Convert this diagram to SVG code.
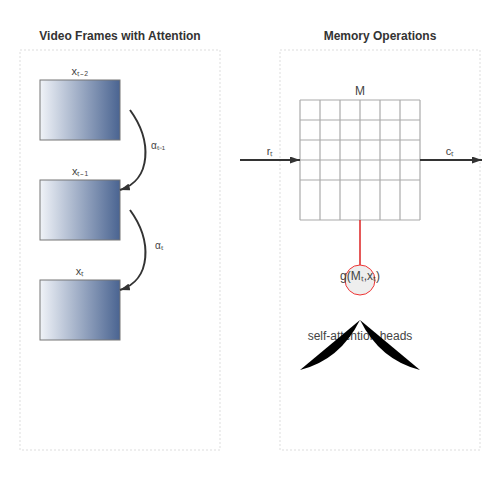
<svg xmlns="http://www.w3.org/2000/svg" width="500" height="500" viewBox="0 0 500 500">
<style>
.title{font-family:"Liberation Sans",Arial,sans-serif;font-size:12px;font-weight:bold;fill:#333;text-anchor:middle}
.lbl{font-family:"Liberation Sans",Arial,sans-serif;font-size:11px;fill:#444}
.panel{fill:none;stroke:#ddd;stroke-width:1;stroke-dasharray:2,2}
.frame{fill:url(#fg);stroke:#777;stroke-width:1}
.grid line{stroke:#aaa;stroke-width:1.2}
.arc{fill:none;stroke:#333;stroke-width:2}
.flow{stroke:#333;stroke-width:2}
</style>
<defs>
<linearGradient id="fg" x1="0" y1="0" x2="1" y2="0">
<stop offset="0" stop-color="#f0f3f8"/>
<stop offset="1" stop-color="#4a6491"/>
</linearGradient>
<marker id="ah" viewBox="0 0 10 7" refX="10" refY="3.5" markerWidth="10" markerHeight="7" orient="auto" markerUnits="userSpaceOnUse">
<path d="M0,0 L10,3.5 L0,7 Z" fill="#333"/>
</marker>
</defs>
<rect width="500" height="500" fill="#fff"/>
<g id="panel-left">
<rect class="panel" x="20" y="50" width="200" height="400"/>
<text class="title" x="120" y="40">Video Frames with Attention</text>
</g>
<g id="panel-right">
<rect class="panel" x="280" y="50" width="200" height="400"/>
<text class="title" x="380" y="40">Memory Operations</text>
</g>
<g id="frame-t2">
<rect class="frame" x="40" y="80" width="80" height="60"/>
<text class="lbl" x="80" y="75" text-anchor="middle">xₜ₋₂</text>
</g>
<g id="frame-t1">
<rect class="frame" x="40" y="180" width="80" height="60"/>
<text class="lbl" x="80" y="175" text-anchor="middle">xₜ₋₁</text>
</g>
<g id="frame-t">
<rect class="frame" x="40" y="280" width="80" height="60"/>
<text class="lbl" x="80" y="275" text-anchor="middle">xₜ</text>
</g>
<g id="memory">
<g class="grid">
<line x1="300" y1="100" x2="300" y2="220"/>
<line x1="320" y1="100" x2="320" y2="220"/>
<line x1="340" y1="100" x2="340" y2="220"/>
<line x1="360" y1="100" x2="360" y2="220"/>
<line x1="380" y1="100" x2="380" y2="220"/>
<line x1="400" y1="100" x2="400" y2="220"/>
<line x1="420" y1="100" x2="420" y2="220"/>
<line x1="300" y1="100" x2="420" y2="100"/>
<line x1="300" y1="120" x2="420" y2="120"/>
<line x1="300" y1="140" x2="420" y2="140"/>
<line x1="300" y1="160" x2="420" y2="160"/>
<line x1="300" y1="180" x2="420" y2="180"/>
<line x1="300" y1="220" x2="420" y2="220"/>
</g>
<text class="lbl" x="360" y="95" text-anchor="middle" style="font-size:12px">M</text>
</g>
<g id="connectors">
<path class="arc" d="M130,110 C152,140 152,180 120,190" marker-end="url(#ah)"/>
<text class="lbl" x="151" y="149" style="font-size:10px">αₜ₋₁</text>
<path class="arc" d="M130,210 C152,240 152,280 120,290" marker-end="url(#ah)"/>
<text class="lbl" x="155" y="249" style="font-size:10px">αₜ</text>
<line class="flow" x1="240" y1="160" x2="300" y2="160" marker-end="url(#ah)"/>
<text class="lbl" x="270" y="155" text-anchor="middle">rₜ</text>
<line class="flow" x1="420" y1="160" x2="482" y2="160" marker-end="url(#ah)"/>
<text class="lbl" x="450" y="155" text-anchor="middle">cₜ</text>
<line x1="360" y1="220" x2="360" y2="265" stroke="#d22" stroke-width="1.5"/>
</g>
<g id="gate">
<circle cx="360" cy="280" r="15" fill="#eee" stroke="#e33" stroke-width="1"/>
<text class="lbl" x="360" y="280" text-anchor="middle" style="font-size:12px">g(Mₜ,xₜ)</text>
</g>
<g id="heads">
<text class="lbl" x="360" y="340" text-anchor="middle" style="font-size:12px">self-attention heads</text>
<path d="M300,370 Q340,360 360,320 Z" fill="#000"/>
<path d="M420,370 Q380,360 360,320 Z" fill="#000"/>
</g>
</svg>
